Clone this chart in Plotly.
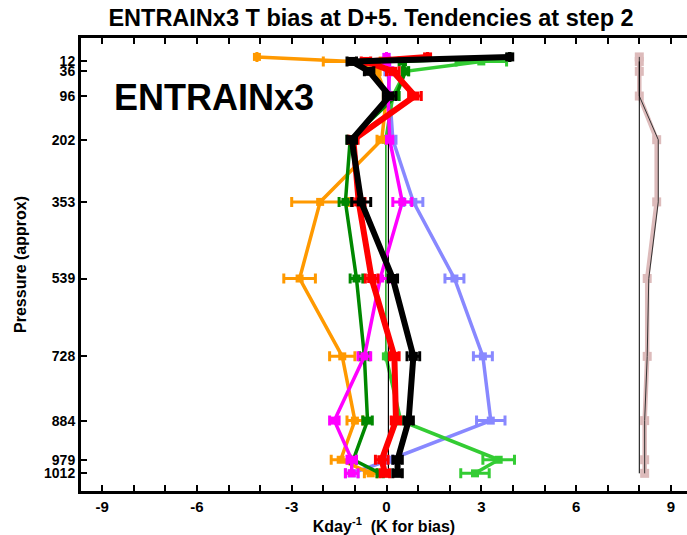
import plotly.graph_objects as go

# Model levels (approx pressure, hPa); first one is the unlabeled top level
levels = [1, 12, 36, 96, 202, 353, 539, 728, 884, 979, 1012]
tick_levels = [12, 36, 96, 202, 353, 539, 728, 884, 979, 1012]
tick_labels = ["12", "36", "96", "202", "353", "539", "728", "884", "979", "1012"]

x_tickvals = list(range(-9, 10))
x_ticktext = [str(v) if v % 3 == 0 else "" for v in x_tickvals]

# Tendencies (K/day)
orange = [-4.1, -1.1, -0.3, 0.0, -0.15, -2.1, -2.75, -1.4, -1.0, -1.45, -0.5]
orange_err = [0.0, 0.9, 0.1, 0.1, 0.15, 0.9, 0.5, 0.4, 0.25, 0.3, 0.2]
dgreen = [3.9, 0.5, 0.6, 0.3, -1.15, -1.3, -0.95, -0.7, -0.6, -1.05, -0.2]
dgreen_err = [0.0, 0.1, 0.1, 0.1, 0.1, 0.2, 0.2, 0.15, 0.15, 0.1, 0.1]
red = [1.3, -0.65, 0.2, 0.9, -1.05, -0.88, -0.47, 0.25, 0.3, -0.15, -0.05]
red_err = [0.0, 0.15, 0.2, 0.2, 0.15, 0.2, 0.2, 0.15, 0.15, 0.2, 0.15]
magenta = [0.0, 0.0, 0.1, 0.05, 0.1, 0.5, -0.2, -0.7, -1.65, -1.1, -1.1]
magenta_err = [0.0, 0.1, 0.1, 0.1, 0.1, 0.3, 0.3, 0.2, 0.15, 0.15, 0.2]
lblue = [0.0, 0.0, 0.05, 0.1, 0.2, 0.85, 2.15, 3.05, 3.3, 0.1, -1.1]
lblue_err = [0.0, 0.1, 0.1, 0.1, 0.1, 0.3, 0.3, 0.3, 0.45, 0.1, 0.2]
lgreen = [3.9, 3.0, 0.6, 0.2, -0.02, -0.02, -0.02, -0.02, 0.45, 3.55, 2.8]
lgreen_err = [0.0, 0.8, 0.1, 0.1, 0.0, 0.0, 0.0, 0.0, 0.1, 0.5, 0.45]
black = [3.9, -1.1, -0.55, 0.1, -1.1, -0.8, 0.2, 0.85, 0.7, 0.35, 0.35]
black_err = [0.0, 0.15, 0.15, 0.2, 0.15, 0.3, 0.15, 0.2, 0.15, 0.15, 0.15]

# Bias (K), plotted with +8 offset
bias = [8.0, 8.0, 8.0, 8.0, 8.55, 8.55, 8.25, 8.25, 8.17, 8.17, 8.17]
bias_ref = [8.0, 8.0, 8.0, 8.0, 8.6, 8.6, 8.3, 8.25, 8.17, 8.17, 8.17]
bias_zero = [8.0] * len(tick_levels)
zero_line = [0.06] * len(tick_levels)

font = "Liberation Sans, Arial"
fig = go.Figure()

fig.add_trace(go.Scatter(x=bias, y=levels, mode="lines+markers",
                         line=dict(color="#DDBBBB", width=4.5),
                         marker=dict(symbol="square", size=9, color="#DDBBBB")))
fig.add_trace(go.Scatter(x=bias_ref, y=levels, mode="lines",
                         line=dict(color="#333333", width=1)))
fig.add_trace(go.Scatter(x=bias_zero, y=tick_levels, mode="lines",
                         line=dict(color="black", width=1)))


def series(x, err, y, color, width, msize=8):
    return go.Scatter(
        x=x, y=y, mode="lines+markers",
        line=dict(color=color, width=width),
        marker=dict(symbol="square", size=msize, color=color),
        error_x=dict(type="data", array=err, visible=True, color=color,
                     thickness=3, width=5),
    )


fig.add_trace(series(lblue, lblue_err, levels, "#8888FF", 3.5))
# light green: thin where it sits on the zero line, thick elsewhere
fig.add_trace(series(lgreen[:5], lgreen_err[:5], levels[:5], "#33CC33", 3.5))
fig.add_trace(go.Scatter(x=lgreen[4:8], y=levels[4:8], mode="lines",
                         line=dict(color="#22AA22", width=1.6)))
fig.add_trace(series(lgreen[7:], lgreen_err[7:], levels[7:], "#33CC33", 3.5))
fig.add_trace(go.Scatter(x=zero_line, y=tick_levels, mode="lines",
                         line=dict(color="black", width=1.2)))
fig.add_trace(series(orange, orange_err, levels, "#FF9900", 3.5))
fig.add_trace(series(dgreen, dgreen_err, levels, "#008800", 3.5))
fig.add_trace(series(magenta, magenta_err, levels, "#FF00FF", 3.5))
fig.add_trace(series(red, red_err, levels, "#FF0000", 6, 9))
fig.add_trace(series(black, black_err, levels, "#000000", 6, 9))

fig.add_annotation(text="<b>ENTRAINx3</b>", showarrow=False,
                   xref="paper", yref="paper",
                   x=(112 - 81) / 606, y=1 - (97.5 - 38) / 453,
                   xanchor="left", yanchor="middle",
                   font=dict(family=font, size=36, color="black"))

fig.update_layout(
    width=687, height=535,
    margin=dict(l=81, r=0, t=38, b=44),
    plot_bgcolor="white", paper_bgcolor="white",
    showlegend=False,
    title=dict(text="<b>ENTRAINx3 T bias at D+5. Tendencies at step 2</b>",
               x=371 / 687, xanchor="center", y=1 - 18 / 535, yanchor="middle",
               xref="container", yref="container",
               font=dict(family=font, size=23.5, color="black")),
    xaxis=dict(range=[(81 - 386.5) / 31.6, (687 - 386.5) / 31.6],
               tickvals=x_tickvals, ticktext=x_ticktext,
               ticks="inside", ticklen=6, tickwidth=2, tickcolor="black",
               showline=True, linewidth=3, linecolor="black", mirror="allticks",
               showgrid=False, zeroline=False,
               tickfont=dict(family=font, size=15, color="black", weight="bold"),
               title=dict(text="<b>Kday<sup>-1</sup>  (K for bias)</b>",
                          font=dict(family=font, size=16, color="black"), standoff=0)),
    yaxis=dict(range=[(491 - 56.5) / 0.4119, (38 - 56.5) / 0.4119],
               tickvals=tick_levels, ticktext=tick_labels,
               ticks="inside", ticklen=6, tickwidth=2, tickcolor="black",
               showline=True, linewidth=3, linecolor="black", mirror=False,
               showgrid=False, zeroline=False,
               tickfont=dict(family=font, size=14, color="black", weight="bold"),
               title=dict(text="<b>Pressure (approx)</b>",
                          font=dict(family=font, size=16, color="black"), standoff=14)),
)

fig.write_html("out.html")
